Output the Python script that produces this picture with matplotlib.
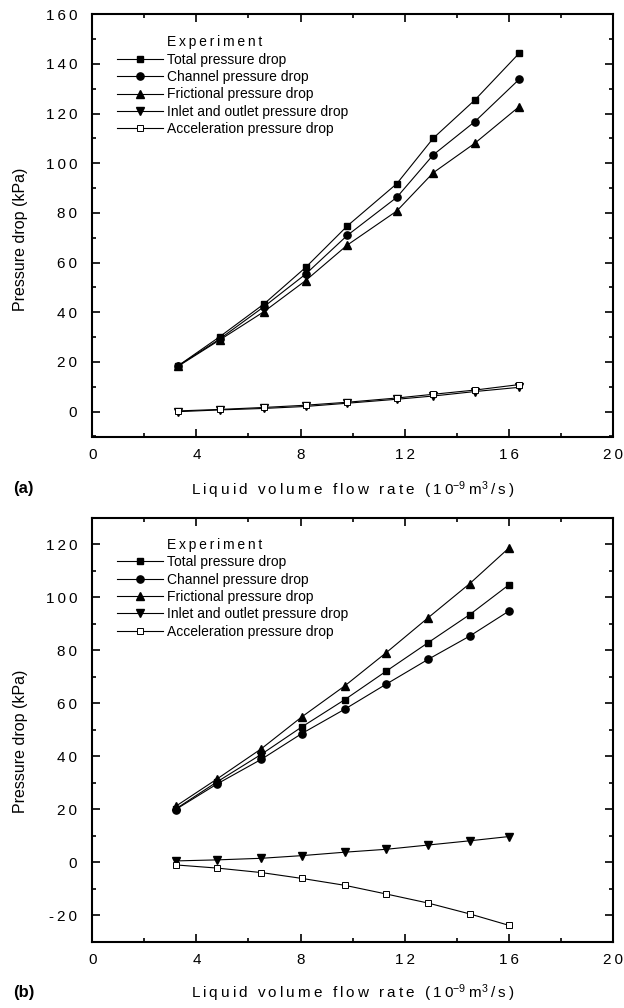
import numpy as np
import matplotlib
matplotlib.use("Agg")
import matplotlib.pyplot as plt
from matplotlib.lines import Line2D
from matplotlib.ticker import MultipleLocator, FuncFormatter

plt.rcParams['font.family'] = ['Liberation Sans', 'DejaVu Sans']
plt.rcParams['mathtext.default'] = 'regular'

# ---- data, panel (a) ----
q_a = [3.3, 4.9, 6.6, 8.2, 9.8, 11.7, 13.1, 14.7, 16.4]
total_a = [18.5, 30.2, 43.4, 58.1, 74.8, 91.8, 110.1, 125.5, 144.3]
channel_a = [18.5, 29.3, 42.3, 55.4, 71.0, 86.3, 103.4, 116.8, 133.8]
friction_a = [18.3, 28.9, 40.3, 52.8, 67.1, 80.8, 96.2, 108.1, 122.8]
inlet_a = [0.0, 0.7, 1.3, 2.1, 3.4, 5.0, 6.3, 8.1, 9.8]
accel_a = [0.3, 0.9, 1.7, 2.6, 3.8, 5.5, 7.0, 8.7, 10.9]

# ---- data, panel (b) ----
q_b = [3.2, 4.8, 6.5, 8.05, 9.7, 11.3, 12.9, 14.5, 16.0]
total_b = [20.1, 30.4, 40.8, 51.1, 61.4, 72.2, 82.9, 93.5, 104.7]
channel_b = [19.9, 29.6, 38.9, 48.6, 57.8, 67.3, 76.6, 85.4, 94.8]
friction_b = [21.1, 31.5, 42.9, 54.9, 66.6, 79.2, 92.3, 105.2, 118.6]
inlet_b = [0.5, 0.9, 1.5, 2.5, 3.8, 4.9, 6.5, 8.1, 9.7]
accel_b = [-1.0, -2.2, -3.9, -6.1, -8.7, -12.0, -15.4, -19.5, -23.8]

labels = ['Total pressure drop', 'Channel pressure drop', 'Frictional pressure drop',
          'Inlet and outlet pressure drop', 'Acceleration pressure drop']

TS = '\u2009'


def spaced(s):
    # wide letter spacing
    return TS.join(s)


W, H = 624, 1008
fig = plt.figure(figsize=(W / 100, H / 100), dpi=100)


def px_axes(x0, y0, x1, y1):
    return fig.add_axes([x0 / W, 1 - y1 / H, (x1 - x0) / W, (y1 - y0) / H])


ax_a = px_axes(92.3, 14.3, 612.8, 436.5)
ax_b = px_axes(92.3, 518.0, 612.8, 941.7)


def draw(ax, q, series, ylim, ymaj, ylab_y, legend_top):
    styles = [dict(marker='s', mfc='black', ms=4.8),
              dict(marker='o', mfc='black', ms=5.2),
              dict(marker='^', mfc='black', ms=5.8),
              dict(marker='v', mfc='black', ms=5.8),
              dict(marker='s', mfc='white', ms=4.6, mew=0.7)]
    handles = [Line2D([], [], linestyle='none')]
    for vals, st in zip(series, styles):
        h, = ax.plot(q, vals, color='black', lw=0.8, mec='black', **st)
        handles.append(h)

    ax.set_xlim(0, 20)
    ax.set_ylim(*ylim)
    ax.xaxis.set_major_locator(MultipleLocator(4))
    ax.xaxis.set_minor_locator(MultipleLocator(2))
    ax.yaxis.set_major_locator(MultipleLocator(ymaj))
    ax.yaxis.set_minor_locator(MultipleLocator(ymaj / 2))
    fmt = FuncFormatter(lambda v, p: spaced('%d' % round(v)))
    ax.xaxis.set_major_formatter(fmt)
    ax.yaxis.set_major_formatter(fmt)
    ax.tick_params(which='both', direction='in', top=True, right=True,
                   width=1.2, labelsize=11)
    ax.tick_params(which='major', length=5.5)
    ax.tick_params(which='minor', length=3.2)
    ax.tick_params(axis='x', pad=8)
    ax.tick_params(axis='y', pad=11)
    for sp in ax.spines.values():
        sp.set_linewidth(1.5)

    ax.set_ylabel('Pressure drop (kPa)', fontsize=11.5)
    ax.yaxis.set_label_coords(-0.1235, ylab_y)

    xl = (spaced('Liquid volume flow rate (10') + r'$^{-9}$' + TS + 'm'
          + r'$^{3}$' + TS + '/' + TS + 's' + TS + ')')
    ax.set_xlabel(xl, fontsize=11, va='center')

    ax.legend(handles, [spaced('Experiment')] + labels, loc='upper left',
              bbox_to_anchor=(0.047, legend_top), frameon=False, borderpad=0,
              borderaxespad=0, handlelength=3.3, handletextpad=0.3,
              labelspacing=0.24, fontsize=10)


draw(ax_a, q_a, [total_a, channel_a, friction_a, inlet_a, accel_a],
     (-10, 160), 20, 0.468, 0.950)
draw(ax_b, q_b, [total_b, channel_b, friction_b, inlet_b, accel_b],
     (-30, 130), 20, 0.474, 0.953)

ax_a.xaxis.set_label_coords(0.5, (436.5 - 490) / 422.2)
ax_b.xaxis.set_label_coords(0.5, (941.7 - 993) / 423.7)

fig.text(13 / W, 1 - 488 / H, '(a)', fontsize=12, fontweight='bold', va='center')
fig.text(13 / W, 1 - 993 / H, '(b)', fontsize=12, fontweight='bold', va='center')

fig.savefig('out.png', dpi=100)
